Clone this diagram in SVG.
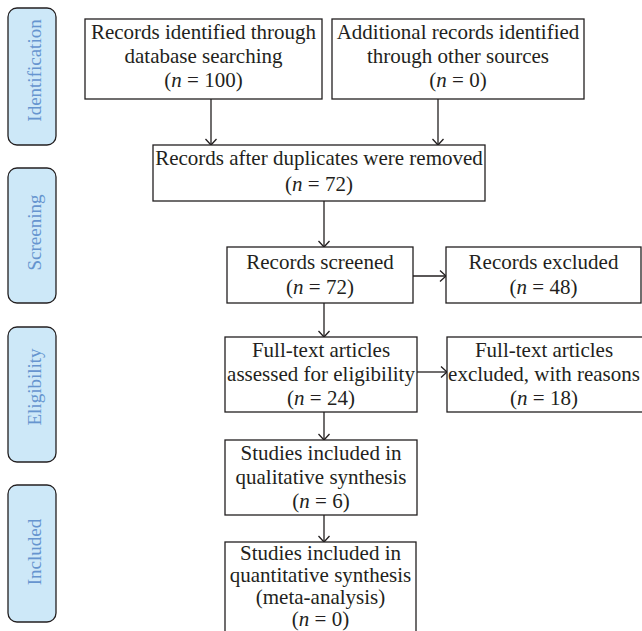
<svg xmlns="http://www.w3.org/2000/svg" width="642" height="631" viewBox="0 0 642 631">
<style>
.box{fill:#fff;stroke:#231f20;stroke-width:1.3}
.side{fill:#cde8f8;stroke:#231f20;stroke-width:1.3}
.t{font-family:"Liberation Serif","Times New Roman",serif;font-size:21px;fill:#231f20;text-anchor:middle}
.s{font-family:"Liberation Serif","Times New Roman",serif;font-size:19px;fill:#6695cf;text-anchor:middle}
.c{stroke:#231f20;stroke-width:1.3;fill:none;marker-end:url(#ah)}
.i{font-style:italic}
</style>
<defs>
<marker id="ah" markerUnits="userSpaceOnUse" markerWidth="14" markerHeight="14" refX="10" refY="6" orient="auto">
<path d="M4,0.5 L10,6 L4,11.5" fill="none" stroke="#231f20" stroke-width="1.3"/>
</marker>
</defs>
<rect width="642" height="631" fill="#fff"/>
<g id="phase-identification"><rect class="side" x="8" y="8" width="48" height="137" rx="9"/><text class="s" transform="translate(41,70.5) rotate(-90)">Identification</text></g>
<g id="phase-screening"><rect class="side" x="8" y="168" width="48" height="135" rx="9"/><text class="s" transform="translate(41,232.5) rotate(-90)">Screening</text></g>
<g id="phase-eligibility"><rect class="side" x="8" y="327" width="48" height="135" rx="9"/><text class="s" transform="translate(41,387) rotate(-90)">Eligibility</text></g>
<g id="phase-included"><rect class="side" x="8" y="485" width="48" height="137" rx="9"/><text class="s" transform="translate(41,552) rotate(-90)">Included</text></g>
<g id="connectors">
<path class="c" d="M211,99 V145"/>
<path class="c" d="M438,99 V145"/>
<path class="c" d="M324,201 V247"/>
<path class="c" d="M413,276 H446"/>
<path class="c" d="M324,303 V337"/>
<path class="c" d="M417,372 H447"/>
<path class="c" d="M324,412 V440"/>
<path class="c" d="M324,515 V542"/>
</g>
<g id="n1"><rect class="box" x="85" y="19" width="237" height="80"/><text class="t" x="203.5" y="39">Records identified through</text><text class="t" x="203.5" y="63">database searching</text><text class="t" x="203.5" y="87">(<tspan class="i">n</tspan> = 100)</text></g>
<g id="n2"><rect class="box" x="332" y="19" width="252" height="80"/><text class="t" x="458" y="39">Additional records identified</text><text class="t" x="458" y="63">through other sources</text><text class="t" x="458" y="87">(<tspan class="i">n</tspan> = 0)</text></g>
<g id="n3"><rect class="box" x="153" y="145" width="332" height="56"/><text class="t" x="319" y="165">Records after duplicates were removed</text><text class="t" x="319" y="191">(<tspan class="i">n</tspan> = 72)</text></g>
<g id="n4"><rect class="box" x="227" y="247" width="186" height="56"/><text class="t" x="320" y="269">Records screened</text><text class="t" x="320" y="294">(<tspan class="i">n</tspan> = 72)</text></g>
<g id="n5"><rect class="box" x="446" y="247" width="195" height="56"/><text class="t" x="543.5" y="269">Records excluded</text><text class="t" x="543.5" y="294">(<tspan class="i">n</tspan> = 48)</text></g>
<g id="n6"><rect class="box" x="225" y="337" width="192" height="75"/><text class="t" x="321" y="357">Full-text articles</text><text class="t" x="321" y="381">assessed for eligibility</text><text class="t" x="321" y="405">(<tspan class="i">n</tspan> = 24)</text></g>
<g id="n7"><rect class="box" x="447" y="337" width="197" height="75"/><text class="t" x="544" y="357">Full-text articles</text><text class="t" x="544" y="381">excluded, with reasons</text><text class="t" x="544" y="405">(<tspan class="i">n</tspan> = 18)</text></g>
<g id="n8"><rect class="box" x="225" y="440" width="192" height="75"/><text class="t" x="321" y="460">Studies included in</text><text class="t" x="321" y="484">qualitative synthesis</text><text class="t" x="321" y="508">(<tspan class="i">n</tspan> = 6)</text></g>
<g id="n9"><rect class="box" x="225" y="542" width="191" height="100"/><text class="t" x="320.5" y="560">Studies included in</text><text class="t" x="320.5" y="582">quantitative synthesis</text><text class="t" x="320.5" y="604">(meta-analysis)</text><text class="t" x="320.5" y="626">(<tspan class="i">n</tspan> = 0)</text></g>
</svg>
